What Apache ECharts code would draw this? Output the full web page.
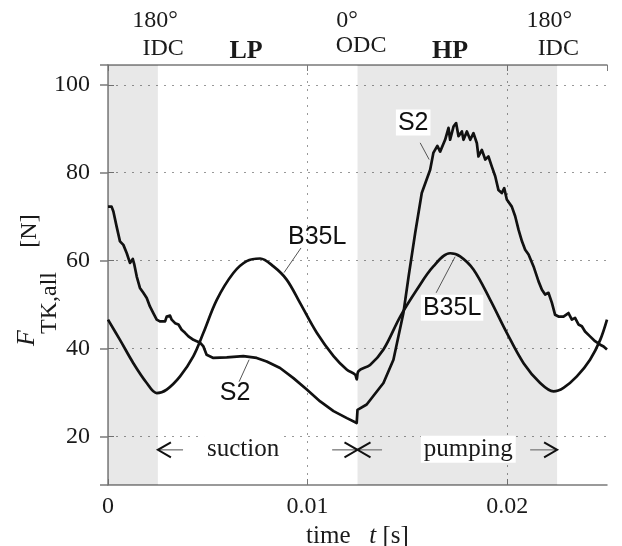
<!DOCTYPE html>
<html><head><meta charset="utf-8">
<script src="https://cdn.jsdelivr.net/npm/echarts@6/dist/echarts.min.js"></script>
<style>html,body{margin:0;padding:0;background:#fff}#c{width:622px;height:546px}</style>
</head><body><div id="c"></div>
<script>
// ---- data (time in s, force in N) ----
const s2Time = [0, 0.00018, 0.00027, 0.00043, 0.0006, 0.00077, 0.00094, 0.0011, 0.00124, 0.00132, 0.00144, 0.0016, 0.00177, 0.00194, 0.0021, 0.00227, 0.00244, 0.0026, 0.00286, 0.00294, 0.00311, 0.00319, 0.00336, 0.00353, 0.00369, 0.00386, 0.00403, 0.00428, 0.00444, 0.00461, 0.00478, 0.00494, 0.00528, 0.00595, 0.00678, 0.00745, 0.00795, 0.00862, 0.00929, 0.00996, 0.01063, 0.0113, 0.01197, 0.01246, 0.0125, 0.01296,
  0.0138, 0.0143, 0.0148, 0.01506, 0.01539, 0.01572, 0.01614, 0.0163, 0.0165, 0.01664, 0.01689, 0.01706, 0.01714, 0.01731, 0.01744, 0.01756, 0.01773, 0.01781, 0.01798, 0.01815, 0.01831, 0.01848, 0.01856, 0.01873, 0.0189, 0.01906, 0.01923, 0.0194, 0.01956, 0.01973, 0.01985, 0.01998, 0.02023, 0.0204, 0.02057, 0.02074, 0.0209, 0.02107, 0.02132, 0.02157, 0.02174, 0.0219, 0.02207, 0.02224, 0.0224, 0.02257, 0.02282, 0.02307, 0.02324, 0.0234, 0.02357, 0.02374, 0.0239, 0.02415, 0.0244, 0.02466, 0.02483, 0.025];
const s2Force = [72.3, 72.3, 71.2, 67.8, 64.4, 63.6, 61.7, 59.5, 60.4, 59.1, 56.4, 53.8, 52.7, 51.5, 49.6, 48.1, 46.6, 46.2, 46.2, 47.3, 47.5, 46.6, 45.8, 45.5, 44.3, 43.6, 42.8, 42.0, 41.7, 41.4, 40.5, 38.6, 37.9, 38.0, 38.3, 37.9, 37.1, 35.6, 33.3, 30.7, 28.0, 25.8, 24.2, 23.1, 26.1, 27.3,
  32.2, 37.5, 48.1, 56.4, 66.3, 75.4, 80.7, 84.5, 86.1, 84.8, 87.5, 90.2, 87.5, 90.5, 91.3, 88.3, 89.4, 87.5, 89.4, 87.5, 89.0, 86.7, 83.7, 85.2, 83.0, 83.7, 81.4, 79.2, 76.1, 75.4, 76.5, 73.9, 72.3, 70.1, 67.0, 64.4, 62.5, 61.4, 58.7, 55.3, 53.4, 52.3, 52.7, 50.4, 47.7, 47.3, 47.3, 48.1, 46.6, 47.0, 45.5, 45.1, 43.9, 42.8, 41.7, 40.9, 40.5, 39.8];

const b35Time = [0, 0.0006, 0.00127, 0.00194, 0.00244, 0.00294, 0.00361, 0.00428, 0.00478, 0.00545, 0.00628, 0.00695, 0.00762, 0.00829, 0.00895, 0.00962, 0.01046, 0.0113, 0.01197, 0.01238, 0.01246, 0.01255, 0.01313,
  0.0138, 0.01464, 0.01547, 0.0163, 0.01714, 0.01764, 0.01831, 0.01915, 0.01998, 0.02082, 0.02165, 0.02232, 0.02282, 0.02349, 0.02415, 0.02466, 0.025];
const b35Force = [46.6, 42.0, 36.7, 32.2, 29.9, 30.7, 33.7, 38.3, 43.6, 51.1, 57.2, 59.9, 60.5, 58.7, 55.7, 50.4, 43.6, 38.3, 35.2, 34.1, 33.0, 34.9, 36.3,
  39.8, 47.3, 53.4, 58.7, 61.7, 61.0, 58.0, 51.1, 43.6, 36.7, 32.2, 30.3, 31.1, 33.7, 37.5, 42.0, 46.6];

const shadeStart = [0, 0.0125];
const shadeEnd = [0.0025, 0.0225];
const xTickLabels = ['0', '0.01', '0.02'];
const seriesNames = ['S2', 'B35L'];

// ---- annotations (data coordinates) ----
const annoText = ['B35L', 'S2', 'S2', 'B35L'];
const annoAt = [[0.01048, 65.4], [0.00637, 30.0], [0.01529, 91.4], [0.01724, 49.3]];
const annoBg = [false, false, true, true];
const leaderFrom = [[0.00967, 62.9], [0.00657, 32.5], [0.01564, 86.8], [0.01644, 52.7]];
const leaderTo = [[0.00882, 57.3], [0.00707, 37.5], [0.01609, 83.0], [0.01739, 60.9]];

const phaseText = ['suction', 'pumping'];
const phaseAt = [0.00677, 0.01805];
const arrowLevel = 17.0;
const arrowHead = [0.0025, 0.0125, 0.0125, 0.0225];
const arrowTail = [0.00376, 0.01123, 0.01373, 0.02115];

const topText = ['180°', 'IDC', 'LP', '0°', 'ODC', 'HP', '180°', 'IDC'];
const topAt = [0.00236, 0.00276, 0.00692, 0.01198, 0.01268, 0.01714, 0.02211, 0.02256];
const topBold = [false, false, true, false, false, true, false, false];

const zip = (a, b) => a.map((v, i) => [v, b[i]]);

const SERIF = '"Liberation Serif", "DejaVu Serif", serif';
const SANS = '"Liberation Sans", Arial, sans-serif';
const axisGray = '#7a7a7a';

const chart = echarts.init(document.getElementById('c'), null, { renderer: 'canvas' });

const option = {
  animation: false,
  backgroundColor: '#fff',
  grid: { left: 108, right: 15, top: 65, bottom: 61, containLabel: false, outerBoundsMode: 'none' },
  xAxis: [{
    type: 'value', min: 0, max: 0.025, interval: 0.01, position: 'bottom',
    axisLine: { show: true, onZero: false, lineStyle: { color: axisGray, width: 1.5 } },
    axisTick: { show: true, inside: true, length: 6, lineStyle: { color: axisGray } },
    axisLabel: {
      show: true, margin: 10, fontFamily: SERIF, fontSize: 24, color: '#1a1a1a',
      showMaxLabel: false,
      formatter: v => { const i = Math.round(v / 0.01); return Math.abs(v - i * 0.01) < 1e-9 ? (xTickLabels[i] || '') : ''; }
    },
    splitLine: { show: true, showMinLine: false, showMaxLine: false, lineStyle: { color: '#999', type: [2, 6], width: 1 } },
    name: '{a|time   }{i|t}{a| [s]}',
    nameLocation: 'middle', nameGap: 35,
    nameTextStyle: {
      rich: {
        a: { fontFamily: SERIF, fontSize: 25, color: '#1a1a1a' },
        i: { fontFamily: SERIF, fontSize: 25, fontStyle: 'italic', color: '#1a1a1a' }
      }
    }
  }, {
    type: 'value', min: 0, max: 0.025, interval: 0.01, position: 'top',
    axisLine: { show: true, onZero: false, lineStyle: { color: axisGray, width: 1.5 } },
    axisTick: { show: true, inside: true, length: 6, lineStyle: { color: axisGray } },
    axisLabel: { show: false }, splitLine: { show: false }
  }],
  yAxis: [{
    type: 'value', min: 9, max: 104.5, splitNumber: 5, position: 'left',
    axisLine: { show: true, onZero: false, lineStyle: { color: axisGray, width: 1.5 } },
    axisTick: { show: true, inside: true, length: 6, lineStyle: { color: axisGray } },
    axisLabel: { show: true, margin: 18, fontFamily: SERIF, fontSize: 24, color: '#1a1a1a', showMinLabel: false, showMaxLabel: false },
    splitLine: { show: true, showMinLine: false, showMaxLine: false, lineStyle: { color: '#999', type: [2, 6], width: 1 } }
  }, {
    type: 'value', min: 9, max: 104.5, splitNumber: 5, position: 'right',
    axisLine: { show: false },
    axisTick: { show: true, inside: true, length: 8, lineStyle: { color: axisGray, width: 1.5 } },
    axisLabel: { show: false }, splitLine: { show: false }
  }],
  series: [{
    name: seriesNames[1], type: 'line', data: zip(b35Time, b35Force),
    xAxisIndex: 0, yAxisIndex: 0,
    showSymbol: false, symbol: 'none', smooth: 0.35,
    lineStyle: { color: '#111', width: 2.7 },
    z: 3,
    markArea: {
      silent: true,
      itemStyle: { color: 'rgba(0,0,0,0.09)' },
      data: shadeStart.map((s, i) => [{ xAxis: s }, { xAxis: shadeEnd[i] }])
    }
  }, {
    name: seriesNames[0], type: 'line', data: zip(s2Time, s2Force),
    xAxisIndex: 0, yAxisIndex: 0,
    showSymbol: false, symbol: 'none', smooth: false,
    lineStyle: { color: '#111', width: 2.7, join: 'round' },
    z: 3
  }]
};
chart.setOption(option);

function drawGraphics() {
  const P = (t, v) => chart.convertToPixel({ gridIndex: 0 }, [t, v]);
  const g = [];
  // top labels
  const topY = [20.5, 48.5, 51, 20.5, 45.5, 51, 20.5, 48.5];
  topText.forEach((txt, i) => {
    const x = P(topAt[i], 50)[0];
    g.push({ type: 'text', x: x, y: topY[i], silent: true, z: 10,
      style: { text: txt, fill: '#1a1a1a', align: 'center', verticalAlign: 'middle',
        font: (topBold[i] ? 'bold 26px ' : '24px ') + SERIF } });
  });
  // curve labels
  annoText.forEach((txt, i) => {
    const a = P(leaderFrom[i][0], leaderFrom[i][1]);
    const b = P(leaderTo[i][0], leaderTo[i][1]);
    g.push({ type: 'line', silent: true, z: 9,
      shape: { x1: a[0], y1: a[1], x2: b[0], y2: b[1] },
      style: { stroke: '#555', lineWidth: 1 } });
    const p = P(annoAt[i][0], annoAt[i][1]);
    const st = { text: txt, fill: '#111', align: 'center', verticalAlign: 'middle', font: '25px ' + SANS };
    if (annoBg[i]) { st.backgroundColor = '#fff'; st.padding = [1, 2, 0, 2]; }
    g.push({ type: 'text', x: p[0], y: p[1], silent: true, z: 10, style: st });
  });
  // phase texts
  phaseText.forEach((txt, i) => {
    const p = P(phaseAt[i], arrowLevel);
    g.push({ type: 'text', x: p[0], y: p[1] - 0.5, silent: true, z: 10,
      style: { text: txt, fill: '#1a1a1a', align: 'center', verticalAlign: 'middle', font: '25px ' + SERIF,
        backgroundColor: '#fff', padding: [0, 3, 2, 3] } });
  });
  // arrows
  arrowHead.forEach((h, i) => {
    const hp = P(h, arrowLevel), tp = P(arrowTail[i], arrowLevel);
    const dir = tp[0] > hp[0] ? 1 : -1;
    g.push({ type: 'line', silent: true, z: 9,
      shape: { x1: hp[0], y1: hp[1], x2: tp[0], y2: tp[1] },
      style: { stroke: '#8a8a8a', lineWidth: 1.5 } });
    g.push({ type: 'polyline', silent: true, z: 10,
      shape: { points: [[hp[0] + dir * 13, hp[1] - 7.5], [hp[0], hp[1]], [hp[0] + dir * 13, hp[1] + 7.5]] },
      style: { stroke: '#111', lineWidth: 2, fill: null } });
  });
  // y axis title
  g.push({ type: 'text', x: 27, y: 338, rotation: Math.PI / 2, silent: true,
    style: { text: 'F', fill: '#1a1a1a', align: 'center', verticalAlign: 'middle', font: 'italic 26px ' + SERIF } });
  g.push({ type: 'text', x: 50, y: 303, rotation: Math.PI / 2, silent: true,
    style: { text: 'TK,all', fill: '#1a1a1a', align: 'center', verticalAlign: 'middle', font: '24px ' + SERIF } });
  g.push({ type: 'text', x: 30, y: 231, rotation: Math.PI / 2, silent: true,
    style: { text: '[N]', fill: '#1a1a1a', align: 'center', verticalAlign: 'middle', font: '24px ' + SERIF } });
  chart.setOption({ graphic: g });
}
drawGraphics();
</script>
</body></html>
